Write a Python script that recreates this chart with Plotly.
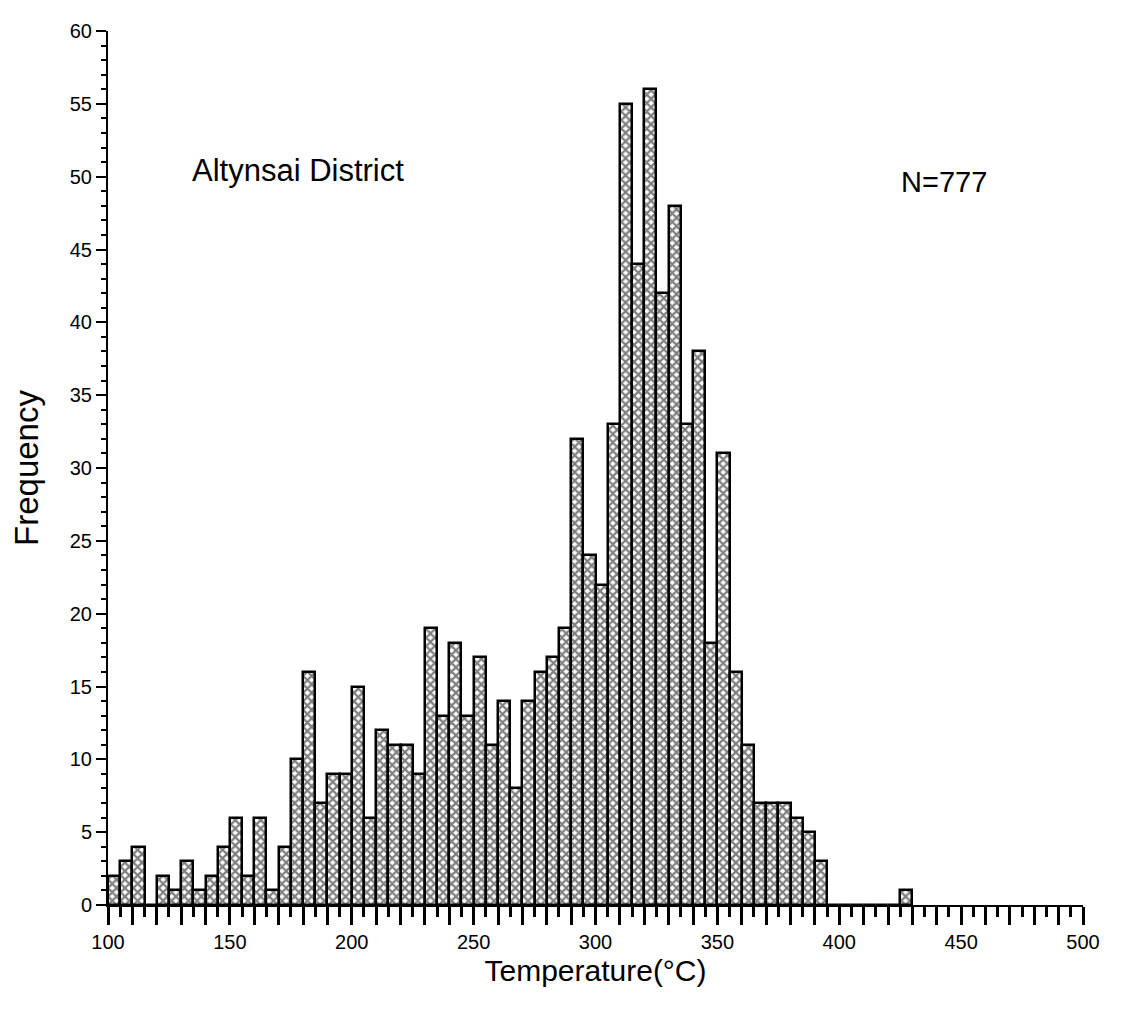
import plotly.graph_objects as go

bin_start = [100, 105, 110, 115, 120, 125, 130, 135, 140, 145,
             150, 155, 160, 165, 170, 175, 180, 185, 190, 195,
             200, 205, 210, 215, 220, 225, 230, 235, 240, 245,
             250, 255, 260, 265, 270, 275, 280, 285, 290, 295,
             300, 305, 310, 315, 320, 325, 330, 335, 340, 345,
             350, 355, 360, 365, 370, 375, 380, 385, 390, 395,
             400, 405, 410, 415, 420, 425]
frequency = [2, 3, 4, 0, 2, 1, 3, 1, 2, 4,
             6, 2, 6, 1, 4, 10, 16, 7, 9, 9,
             15, 6, 12, 11, 11, 9, 19, 13, 18, 13,
             17, 11, 14, 8, 14, 16, 17, 19, 32, 24,
             22, 33, 55, 44, 56, 42, 48, 33, 38, 18,
             31, 16, 11, 7, 7, 7, 6, 5, 3, 0,
             0, 0, 0, 0, 0, 1]
bin_width = 5
x_labels = [100, 150, 200, 250, 300, 350, 400, 450, 500]
y_ticks = [0, 5, 10, 15, 20, 25, 30, 35, 40, 45, 50, 55, 60]

centers = [s + bin_width / 2 for s in bin_start]
x_tickvals = list(range(100, 501, 10))
x_ticktext = [str(v) if v in x_labels else "" for v in x_tickvals]

fig = go.Figure()
fig.add_trace(go.Bar(
    x=centers, y=frequency, width=[bin_width] * len(centers),
    marker=dict(color="white",
                line=dict(color="black", width=2.5),
                pattern=dict(shape="x", fgcolor="black", bgcolor="white",
                             size=6, solidity=0.6)),
    showlegend=False,
))

font_family = "Liberation Sans, Arial, sans-serif"
fig.update_layout(
    width=1122, height=1013,
    margin=dict(l=100, r=47, t=14, b=116),
    plot_bgcolor="white", paper_bgcolor="white",
    bargap=0,
    font=dict(family=font_family, color="black", size=20),
    xaxis=dict(range=[100, 500], tickvals=x_tickvals, ticktext=x_ticktext,
               ticks="outside", ticklen=18, tickwidth=3, tickcolor="black",
               showline=True, linecolor="black", linewidth=2,
               showgrid=False, zeroline=False,
               minor=dict(dtick=5, tick0=100, ticks="outside", ticklen=10,
                          tickwidth=3, tickcolor="black", showgrid=False),
               tickfont=dict(size=20),
               title=dict(text="Temperature(°C)", font=dict(size=30), standoff=8)),
    yaxis=dict(range=[0, 60], tickvals=y_ticks, ticks="outside",
               ticklen=10, tickwidth=1.5, tickcolor="black",
               showline=True, linecolor="black", linewidth=2,
               showgrid=False, zeroline=False,
               minor=dict(dtick=1, ticks="outside", ticklen=5, tickwidth=1.5,
                          tickcolor="black", showgrid=False),
               tickfont=dict(size=20),
               title=dict(text="Frequency", font=dict(size=33), standoff=24)),
    annotations=[
        dict(x=178, y=50.4, xref="x", yref="y", text="Altynsai District",
             showarrow=False, font=dict(size=31)),
        dict(x=443, y=49.6, xref="x", yref="y", text="N=777",
             showarrow=False, font=dict(size=29)),
    ],
)

fig.write_html("out.html")
